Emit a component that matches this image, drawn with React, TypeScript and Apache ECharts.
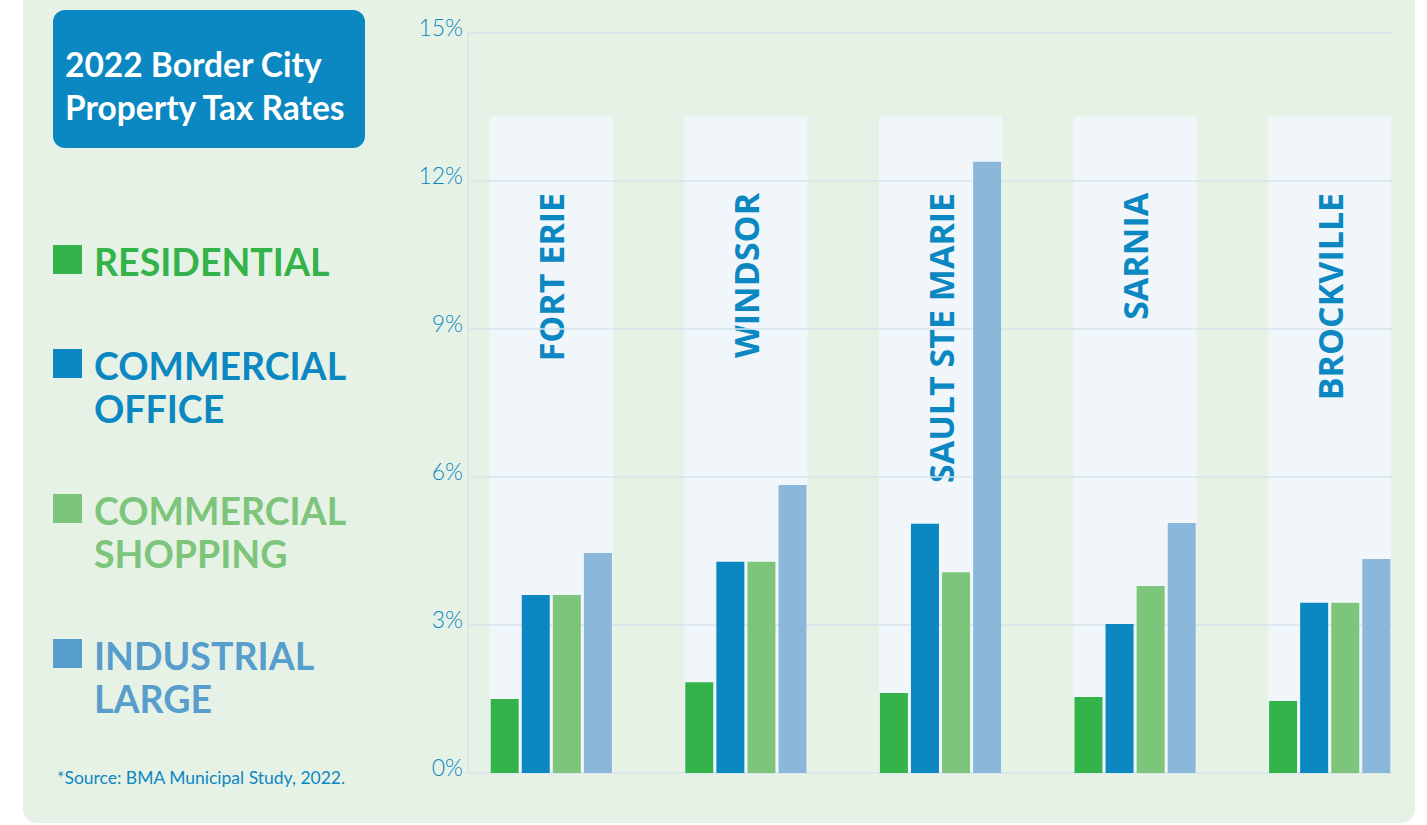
import React, { useEffect, useRef } from "react";
import * as echarts from "echarts";

const categories = ["FORT ERIE", "WINDSOR", "SAULT STE MARIE", "SARNIA", "BROCKVILLE"];
const residential = [1.5, 1.84, 1.62, 1.54, 1.46];
const commercialOffice = [3.61, 4.28, 5.05, 3.02, 3.45];
const commercialShopping = [3.61, 4.28, 4.07, 3.79, 3.45];
const industrialLarge = [4.46, 5.84, 12.39, 5.07, 4.34];
const yTicks = [0, 3, 6, 9, 12, 15];
const seriesNames = ["RESIDENTIAL", "COMMERCIAL OFFICE", "COMMERCIAL SHOPPING", "INDUSTRIAL LARGE"];
const legendLines = [["RESIDENTIAL"], ["COMMERCIAL", "OFFICE"], ["COMMERCIAL", "SHOPPING"], ["INDUSTRIAL", "LARGE"]];
const titleLines = ["2022 Border City", "Property Tax Rates"];
const sourceText = "*Source: BMA Municipal Study, 2022.";
const BAND_TOP = 13.3;

const BAR_COLORS = ["#33B34A", "#0B87C1", "#7DC57A", "#8BB7DB"];
const LEGEND_COLORS = ["#33B34A", "#0B87C1", "#7DC57A", "#579ECC"];
const BLUE = "#0B87C1";
const GRID_COLOR = "#D6E4EE";

export default function App() {
  const ref = useRef<HTMLDivElement>(null);
  useEffect(() => {
    if (!ref.current) return;
    const chart = echarts.init(ref.current, null, { renderer: "svg" });
    const values = [residential, commercialOffice, commercialShopping, industrialLarge];

    const legendTops = [245, 349, 494, 639];
    const graphic: any[] = [
      {
        type: "rect",
        z: -100,
        silent: true,
        shape: { x: 23, y: -30, width: 1392, height: 853, r: 14 },
        style: { fill: "#E7F2E6" },
      },
      {
        type: "rect",
        z: 10,
        shape: { x: 53, y: 10, width: 312, height: 138, r: 12 },
        style: { fill: BLUE },
      },
    ];
    titleLines.forEach((t, i) => {
      graphic.push({
        type: "text",
        z: 11,
        x: 65,
        y: 64 + i * 43,
        style: {
          text: t,
          fill: "#FFFFFF",
          font: "bold 33.5px Lato",
          verticalAlign: "middle",
          align: "left",
        },
      });
    });
    legendLines.forEach((lines, i) => {
      graphic.push({
        type: "rect",
        z: 10,
        shape: { x: 53, y: legendTops[i], width: 29, height: 29 },
        style: { fill: LEGEND_COLORS[i] },
      });
      lines.forEach((t, j) => {
        graphic.push({
          type: "text",
          z: 10,
          x: 94,
          y: legendTops[i] + 16 + j * 43,
          style: {
            text: t,
            fill: LEGEND_COLORS[i],
            font: "bold 37.5px Lato",
            verticalAlign: "middle",
            align: "left",
          },
        });
      });
    });
    graphic.push({
      type: "text",
      z: 10,
      x: 57,
      y: 777,
      style: {
        text: sourceText,
        fill: BLUE,
        font: "17.5px Lato",
        verticalAlign: "middle",
        align: "left",
      },
    });

    const option: any = {
      animation: false,
      backgroundColor: "#FFFFFF",
      graphic,
      grid: [
        { left: 468, right: 34, top: 33, bottom: 52, containLabel: false },
        { left: 454, width: 976, top: 33, bottom: 52, containLabel: false },
      ],
      xAxis: [
        {
          type: "category",
          gridIndex: 0,
          data: categories,
          show: true,
          axisLine: { show: false },
          axisTick: { show: false },
          axisLabel: { show: false },
        },
        {
          type: "category",
          gridIndex: 1,
          data: categories,
          show: false,
        },
        {
          type: "category",
          gridIndex: 1,
          data: categories,
          show: false,
        },
      ],
      yAxis: [
        {
          type: "value",
          gridIndex: 0,
          min: yTicks[0],
          max: yTicks[yTicks.length - 1],
          interval: yTicks[1] - yTicks[0],
          z: 1,
          axisLine: { show: true, lineStyle: { color: GRID_COLOR, width: 1.5 } },
          axisTick: { show: false },
          splitLine: { show: true, lineStyle: { color: GRID_COLOR, width: 1.5 } },
          axisLabel: {
            formatter: "{value}%",
            color: BLUE,
            fontFamily: "Lato",
            fontWeight: 300,
            fontSize: 23,
            margin: 5,
            verticalAlign: "bottom",
            lineHeight: 13,
          },
        },
        {
          type: "value",
          gridIndex: 1,
          min: yTicks[0],
          max: yTicks[yTicks.length - 1],
          show: false,
          splitLine: { show: false },
        },
      ],
      series: [
        {
          name: "band",
          type: "bar",
          xAxisIndex: 2,
          yAxisIndex: 1,
          z: 0,
          silent: true,
          barWidth: 123,
          data: categories.map(() => BAND_TOP),
          itemStyle: { color: "#F0F6FA" },
          label: {
            show: true,
            formatter: "{b}",
            position: "insideTop",
            distance: 76,
            rotate: 90,
            align: "right",
            verticalAlign: "middle",
            offset: [0, 0],
            color: BLUE,
            fontFamily: "Open Sans",
            fontWeight: "bold",
            fontSize: 34,
          },
        },
        ...seriesNames.map((name, i) => ({
          name,
          type: "bar",
          xAxisIndex: 1,
          yAxisIndex: 1,
          z: 2,
          barWidth: 28,
          barGap: "11%",
          data: values[i],
          itemStyle: { color: BAR_COLORS[i] },
        })),
      ],
    };
    chart.setOption(option);
    return () => chart.dispose();
  }, []);
  return (
    <div
      ref={ref}
      style={{ position: "absolute", left: 0, top: 0, width: 1427, height: 825 }}
    />
  );
}
